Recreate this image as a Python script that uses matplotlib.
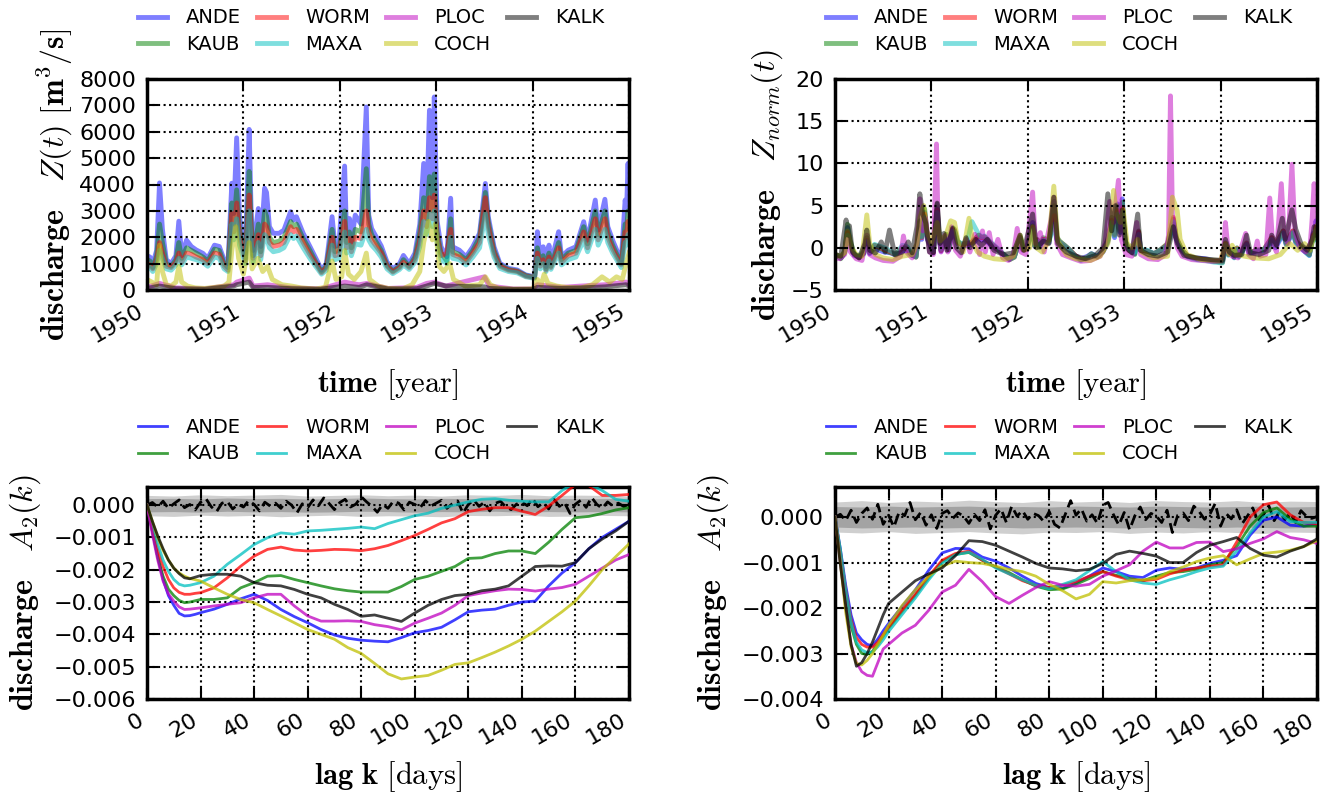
import numpy as np
import matplotlib
matplotlib.use("Agg")
import matplotlib.pyplot as plt
from matplotlib.ticker import FuncFormatter, MultipleLocator

# ---------------- DATA ----------------
STATIONS = ["ANDE", "KAUB", "WORM", "MAXA", "PLOC", "COCH", "KALK"]
COLORS = {"ANDE": "b", "KAUB": "g", "WORM": "r", "MAXA": "c",
          "PLOC": "m", "COCH": "y", "KALK": "k"}

# time grid (fractional years) shared by the large-river series
T_MAIN = [1950.00, 1950.03, 1950.06, 1950.10, 1950.13, 1950.16, 1950.20, 1950.25, 1950.30, 1950.33,
          1950.36, 1950.41, 1950.46, 1950.51, 1950.58, 1950.63, 1950.70, 1950.75, 1950.80, 1950.84,
          1950.88, 1950.90, 1950.93, 1950.96, 1951.02, 1951.06, 1951.08, 1951.10, 1951.155, 1951.18,
          1951.22, 1951.24, 1951.27, 1951.31, 1951.37, 1951.42, 1951.49, 1951.52, 1951.55, 1951.62,
          1951.69, 1951.76, 1951.81, 1951.86, 1951.92, 1951.95, 1951.99, 1952.05, 1952.07, 1952.10,
          1952.12, 1952.16, 1952.22, 1952.275, 1952.30, 1952.33, 1952.38, 1952.43, 1952.49, 1952.55,
          1952.62, 1952.66, 1952.72, 1952.78, 1952.83, 1952.87, 1952.90, 1952.93, 1952.96, 1952.98,
          1953.01, 1953.05, 1953.11, 1953.15, 1953.17, 1953.24, 1953.31, 1953.38, 1953.45, 1953.51,
          1953.54, 1953.60, 1953.66, 1953.75, 1953.84, 1953.93, 1954.02, 1954.05, 1954.08, 1954.11,
          1954.14, 1954.17, 1954.19, 1954.27, 1954.30, 1954.37, 1954.45, 1954.53, 1954.57, 1954.65,
          1954.68, 1954.75, 1954.78, 1954.83, 1954.88, 1954.92, 1954.96, 1954.975, 1954.99, 1955.00]

# discharge Z(t) [m^3/s]
ANDE_Z = [1300, 1250, 1000, 1500, 4060, 2300, 1150, 1000, 1300, 2610,
          1300, 1890, 1650, 1520, 1390, 1200, 1700, 1650, 1140, 1000,
          4050, 2900, 5770, 2780, 1390, 6090, 3000, 1500, 3090, 1650,
          3860, 3700, 2400, 2150, 2150, 2270, 2970, 2650, 2780, 2150,
          1650, 1140, 760, 1000, 2780, 1650, 1700, 4700, 2080, 2710,
          1820, 2840, 2500, 6940, 2840, 2330, 2000, 1670, 1060, 800,
          1000, 1310, 1000, 1400, 2500, 4800, 3000, 6820, 3500, 7320,
          2600, 1640, 1260, 3480, 1640, 1510, 1260, 1640, 2150, 4040,
          2780, 1640, 1010, 820, 760, 570, 505, 2210, 1140, 1640,
          890, 1700, 1010, 2210, 1260, 1510, 1640, 2590, 1890, 3410,
          2270, 3440, 2400, 1890, 1450, 1130, 3410, 3030, 4800, 3500]
KAUB_Z = [1150, 1100, 850, 1300, 2500, 1800, 1000, 900, 1150, 1800,
          1200, 1600, 1500, 1400, 1250, 1100, 1550, 1500, 1000, 850,
          3300, 2500, 3800, 2300, 1200, 4500, 2600, 1300, 2500, 1450,
          3000, 2800, 2000, 1800, 1850, 2000, 2600, 2400, 2500, 1950,
          1500, 1000, 700, 900, 2300, 1450, 1500, 3000, 1800, 2200,
          1600, 2300, 2200, 4600, 2500, 2100, 1800, 1500, 950, 720,
          900, 1150, 900, 1250, 2200, 3500, 2700, 4300, 3000, 4400,
          2200, 1400, 1100, 2700, 1450, 1350, 1150, 1500, 2000, 3700,
          2600, 1500, 950, 780, 720, 550, 480, 1600, 1000, 1300,
          800, 1400, 900, 1800, 1150, 1400, 1500, 2400, 1750, 3000,
          2100, 3000, 2200, 1700, 1300, 1000, 2500, 2300, 3000, 2600]
WORM_Z = [1000, 950, 800, 1150, 1800, 1400, 900, 850, 1050, 1400,
          1050, 1400, 1350, 1250, 1150, 1000, 1400, 1350, 900, 750,
          2900, 2200, 3300, 2000, 1100, 3600, 2300, 1200, 2100, 1300,
          2500, 2400, 1800, 1650, 1700, 1800, 2400, 2200, 2300, 1800,
          1350, 950, 650, 850, 2000, 1300, 1350, 2600, 1600, 1950,
          1450, 2000, 1950, 3000, 2200, 1900, 1650, 1400, 900, 680,
          850, 1050, 850, 1150, 1900, 3000, 2400, 3500, 2700, 3600,
          2000, 1300, 1400, 2300, 1350, 1250, 1050, 1400, 1800, 3500,
          2400, 1400, 900, 750, 700, 520, 460, 1400, 900, 1150,
          750, 1250, 850, 1600, 1050, 1300, 1400, 2200, 1600, 2700,
          1900, 2700, 2000, 1550, 1200, 950, 2200, 2000, 2600, 2300]
MAXA_Z = [900, 850, 700, 1000, 1500, 1200, 800, 750, 950, 1200,
          950, 1250, 1200, 1150, 1050, 900, 1250, 1200, 800, 700,
          2500, 1900, 2700, 1700, 1000, 3000, 1900, 1050, 1800, 1150,
          2100, 2000, 1600, 1450, 1500, 1600, 2100, 1950, 2050, 1600,
          1200, 850, 600, 750, 1700, 1150, 1200, 2200, 1400, 1700,
          1300, 1750, 1700, 2300, 1900, 1700, 1500, 1250, 800, 620,
          780, 950, 780, 1050, 1650, 2600, 2100, 2900, 2400, 3000,
          1800, 1150, 1000, 2000, 1200, 1150, 950, 1250, 1600, 2900,
          2100, 1250, 820, 700, 650, 500, 440, 1200, 800, 1000,
          700, 1100, 780, 1400, 950, 1150, 1250, 1900, 1450, 2300,
          1700, 2300, 1800, 1400, 1100, 850, 1800, 1700, 2100, 1900]

T_COCH = [1950.00, 1950.05, 1950.10, 1950.13, 1950.16, 1950.20, 1950.25, 1950.30, 1950.33, 1950.36,
          1950.42, 1950.50, 1950.60, 1950.70, 1950.80, 1950.85, 1950.88, 1950.92, 1950.95, 1951.00,
          1951.06, 1951.09, 1951.15, 1951.20, 1951.25, 1951.30, 1951.40, 1951.50, 1951.60, 1951.75,
          1951.85, 1951.92, 1951.96, 1952.02, 1952.05, 1952.09, 1952.15, 1952.22, 1952.275, 1952.31,
          1952.40, 1952.50, 1952.65, 1952.75, 1952.83, 1952.87, 1952.92, 1952.96, 1952.99, 1953.03,
          1953.08, 1953.14, 1953.18, 1953.30, 1953.45, 1953.51, 1953.56, 1953.65, 1953.80, 1954.00,
          1954.05, 1954.09, 1954.12, 1954.16, 1954.25, 1954.35, 1954.50, 1954.62, 1954.72, 1954.80,
          1954.87, 1954.93, 1954.97, 1955.00]
COCH_Z = [400, 300, 200, 1700, 700, 200, 150, 300, 900, 300,
          150, 80, 60, 100, 150, 300, 1500, 2400, 1200, 600,
          1800, 800, 1200, 700, 900, 400, 200, 150, 80, 40,
          100, 1100, 400, 500, 1500, 600, 400, 700, 1400, 400,
          150, 60, 40, 200, 700, 1800, 2600, 1900, 2500, 900,
          700, 1000, 400, 150, 200, 500, 200, 60, 30, 40,
          400, 200, 600, 250, 150, 100, 80, 200, 500, 300,
          500, 400, 1000, 1400]

T_SMALL = [1950.00, 1950.13, 1950.30, 1950.60, 1950.90, 1950.93, 1951.06, 1951.10, 1951.25, 1951.50,
           1951.80, 1952.05, 1952.20, 1952.28, 1952.50, 1952.80, 1952.90, 1952.98, 1953.10, 1953.50,
           1953.55, 1953.80, 1954.00, 1954.05, 1954.30, 1954.50, 1954.75, 1954.97, 1955.00]
PLOC_Z = [100, 250, 80, 40, 200, 300, 450, 150, 200, 80,
          40, 300, 200, 250, 60, 100, 250, 300, 150, 500,
          150, 40, 40, 200, 100, 150, 200, 300, 200]
KALK_Z = [60, 150, 50, 30, 150, 200, 300, 100, 100, 50,
          30, 150, 100, 200, 40, 50, 150, 250, 150, 120,
          60, 25, 25, 100, 60, 80, 120, 200, 150]

# normalised discharge Z_norm(t)
ANDE_N = [-1.0, -1.0, -1.2, -0.6, 2.4, 0.4, -0.9, -1.1, -0.7, 0.8,
          -0.7, 0.0, -0.3, -0.5, -0.6, -0.9, -0.3, -0.4, -0.9, -1.0,
          2.4, 1.0, 4.2, 1.0, -0.6, 4.6, 1.2, -0.4, 1.3, -0.3,
          2.1, 2.0, 0.5, 0.2, 0.3, 0.4, 1.2, 0.9, 1.0, 0.3,
          -0.3, -0.9, -1.3, -1.0, 1.0, -0.3, -0.2, 3.0, 0.2, 0.9,
          0.0, 1.0, 0.6, 5.5, 1.0, 0.5, 0.1, -0.3, -0.9, -1.3,
          -1.0, -0.7, -1.0, -0.5, 0.7, 3.2, 1.2, 5.2, 1.8, 5.8,
          0.8, -0.3, -0.7, 1.8, -0.3, -0.4, -0.7, -0.3, 0.3, 2.8,
          1.0, -0.3, -1.0, -1.2, -1.3, -1.5, -1.6, 0.4, -0.8, -0.3,
          -1.1, -0.2, -1.0, 0.4, -0.7, -0.4, -0.3, 0.8, 0.0, 1.7,
          0.4, 1.8, 0.6, 0.0, -0.5, -0.9, 1.7, 1.2, 3.2, 1.8]
KAUB_N = [-0.9, -1.0, -1.3, -0.5, 2.8, 0.8, -0.8, -1.2, -0.6, 1.2,
          -0.6, 0.3, 0.0, -0.3, -0.6, -0.8, 0.0, -0.2, -0.9, -1.1,
          3.2, 1.3, 4.6, 1.2, -0.5, 5.2, 1.6, -0.3, 1.6, -0.2,
          2.4, 2.2, 0.8, 0.4, 0.5, 0.6, 1.5, 1.2, 1.3, 0.5,
          -0.2, -0.9, -1.4, -1.1, 1.3, -0.2, -0.1, 2.6, 0.3, 1.0,
          0.1, 1.2, 0.9, 5.0, 1.3, 0.8, 0.3, -0.2, -0.9, -1.4,
          -1.1, -0.7, -1.1, -0.4, 1.0, 3.6, 1.6, 5.0, 2.2, 5.4,
          0.9, -0.3, -0.8, 2.0, -0.3, -0.4, -0.7, -0.2, 0.5, 3.4,
          1.2, -0.3, -1.0, -1.3, -1.4, -1.6, -1.7, 0.6, -0.7, -0.2,
          -1.1, 0.0, -0.9, 0.6, -0.6, -0.3, -0.2, 1.2, 0.3, 2.0,
          0.6, 2.0, 0.8, 0.2, -0.4, -0.8, 1.5, 1.0, 2.6, 1.6]
WORM_N = [-0.8, -0.9, -1.2, -0.4, 1.8, 0.5, -0.8, -1.1, -0.5, 0.9,
          -0.5, 0.3, 0.1, -0.2, -0.5, -0.8, 0.1, -0.1, -0.8, -1.1,
          3.0, 1.2, 4.0, 1.0, -0.5, 4.5, 1.4, -0.3, 1.4, -0.2,
          2.2, 2.0, 0.7, 0.4, 0.5, 0.7, 1.5, 1.2, 1.3, 0.5,
          -0.2, -0.9, -1.4, -1.1, 1.2, -0.2, -0.1, 2.4, 0.3, 0.9,
          0.1, 1.0, 0.9, 3.8, 1.1, 0.7, 0.3, -0.2, -0.9, -1.4,
          -1.1, -0.8, -1.1, -0.4, 0.9, 3.3, 1.5, 4.4, 2.0, 4.7,
          0.8, -0.3, 0.0, 1.9, -0.3, -0.4, -0.7, -0.2, 0.4, 3.6,
          1.2, -0.3, -1.0, -1.3, -1.4, -1.6, -1.7, 0.5, -0.8, -0.3,
          -1.1, -0.1, -1.0, 0.5, -0.6, -0.3, -0.2, 1.2, 0.3, 2.0,
          0.5, 2.0, 0.8, 0.2, -0.4, -0.8, 1.5, 1.1, 2.5, 1.7]
MAXA_N = [-0.8, -0.9, -1.2, -0.4, 1.5, 0.5, -0.8, -1.0, -0.4, 0.8,
          -0.5, 0.4, 0.2, 0.0, -0.4, -0.8, 0.3, 0.1, -0.8, -1.1,
          3.1, 1.3, 3.6, 1.0, -0.4, 4.2, 1.3, -0.2, 1.4, -0.1,
          2.0, 1.9, 0.8, 0.5, 0.6, 3.1, 1.6, 1.3, 1.4, 0.6,
          -0.1, -0.9, -1.4, -1.1, 1.1, -0.1, 0.0, 2.2, 0.3, 0.8,
          0.1, 0.9, 0.8, 2.8, 1.0, 0.7, 0.3, -0.2, -1.0, -1.5,
          -1.1, -0.8, -1.1, -0.3, 0.8, 3.0, 1.4, 4.0, 1.9, 4.2,
          0.8, -0.2, -0.5, 1.6, -0.2, -0.3, -0.7, -0.2, 0.3, 3.1,
          1.1, -0.3, -1.1, -1.4, -1.5, -1.7, -1.8, 0.3, -0.9, -0.4,
          -1.2, -0.2, -1.1, 0.4, -0.7, -0.3, -0.2, 1.0, 0.2, 1.8,
          0.4, 1.8, 0.7, 0.1, -0.5, -0.9, 1.2, 0.9, 2.1, 1.4]

T_PLOC_N = [1950.00, 1950.05, 1950.10, 1950.13, 1950.16, 1950.22, 1950.28, 1950.33, 1950.36, 1950.42,
            1950.50, 1950.60, 1950.68, 1950.71, 1950.74, 1950.80, 1950.85, 1950.88, 1950.91, 1950.94,
            1950.98, 1951.02, 1951.053, 1951.07, 1951.10, 1951.14, 1951.17, 1951.21, 1951.25, 1951.30,
            1951.36, 1951.40, 1951.45, 1951.50, 1951.53, 1951.56, 1951.60, 1951.64, 1951.69, 1951.74,
            1951.80, 1951.85, 1951.89, 1951.93, 1951.98, 1952.05, 1952.08, 1952.13, 1952.17, 1952.24,
            1952.27, 1952.30, 1952.36, 1952.45, 1952.55, 1952.65, 1952.75, 1952.80, 1952.85, 1952.89,
            1952.94, 1952.97, 1953.02, 1953.08, 1953.13, 1953.17, 1953.25, 1953.35, 1953.43, 1953.46,
            1953.48, 1953.50, 1953.55, 1953.60, 1953.70, 1953.80, 1953.90, 1954.00, 1954.03, 1954.05,
            1954.08, 1954.12, 1954.18, 1954.26, 1954.29, 1954.34, 1954.38, 1954.41, 1954.47, 1954.51,
            1954.54, 1954.58, 1954.63, 1954.66, 1954.70, 1954.74, 1954.77, 1954.82, 1954.88, 1954.93,
            1954.95, 1954.97, 1955.00]
PLOC_N = [-1.2, -1.3, -0.8, 1.0, -0.5, -1.3, -1.5, 1.5, -0.8, -1.2,
          -1.5, -1.6, -1.0, 1.4, -0.5, -1.2, 0.5, 5.8, 2.0, 3.5,
          -0.5, -0.8, 12.3, 2.0, -0.5, 1.5, -0.5, 2.5, -0.3, -1.0,
          1.0, -0.5, 1.6, -0.8, 2.0, -0.5, 1.8, -0.8, 1.0, -1.2,
          -1.5, -0.8, 2.3, -0.5, -0.8, 6.6, 0.5, 1.8, -0.5, 3.3,
          6.0, 0.5, -0.8, -1.2, -1.6, -1.5, -1.0, 0.5, 5.5, 3.0,
          8.0, 1.0, -0.8, -1.0, 3.0, -0.8, -1.3, -1.4, -0.8, 1.5,
          18.0, 4.0, 0.0, -1.0, -1.4, -1.5, -1.6, -1.5, -0.5, 3.0,
          -0.5, -1.0, -1.2, 1.7, -0.8, -1.3, 0.8, -1.0, -0.8, 5.9,
          0.5, -0.5, 7.6, 1.5, 0.5, 9.9, 2.0, 0.0, -0.5, 0.5,
          3.5, 7.6, 2.0]

T_COCH_N = [1950.00, 1950.05, 1950.10, 1950.13, 1950.17, 1950.22, 1950.28, 1950.33, 1950.36, 1950.42,
            1950.50, 1950.60, 1950.70, 1950.80, 1950.85, 1950.88, 1950.92, 1950.95, 1951.00, 1951.06,
            1951.09, 1951.15, 1951.20, 1951.24, 1951.28, 1951.33, 1951.39, 1951.43, 1951.48, 1951.55,
            1951.65, 1951.75, 1951.85, 1951.92, 1951.96, 1952.02, 1952.05, 1952.09, 1952.15, 1952.22,
            1952.27, 1952.31, 1952.40, 1952.50, 1952.65, 1952.75, 1952.83, 1952.87, 1952.89, 1952.92,
            1952.96, 1952.99, 1953.03, 1953.08, 1953.14, 1953.18, 1953.30, 1953.45, 1953.50, 1953.55,
            1953.58, 1953.65, 1953.80, 1954.00, 1954.05, 1954.09, 1954.12, 1954.16, 1954.25, 1954.35,
            1954.50, 1954.62, 1954.72, 1954.80, 1954.87, 1954.93, 1954.97, 1955.00]
COCH_N = [-0.8, -1.0, -0.6, 2.0, 0.0, -0.8, -1.0, 3.9, 0.5, -0.8,
          -1.2, -1.4, -1.0, -0.8, 0.5, 3.5, 5.0, 2.0, 0.5, 3.0,
          0.8, 1.5, 3.2, 3.0, 0.5, -0.5, 3.5, 0.5, -0.5, -1.0,
          -1.3, -1.4, -1.0, 1.5, -0.3, 0.0, 2.5, 0.0, -0.5, 0.8,
          7.3, 0.8, -0.8, -1.3, -1.5, -1.0, 0.5, 3.0, 6.8, 4.0,
          3.0, 4.5, 0.5, 0.0, 1.0, -0.5, -1.2, -1.0, 6.0, 4.4,
          1.0, -0.8, -1.4, -1.5, 0.5, -0.8, 0.3, -0.8, -1.0, -1.2,
          -1.3, -0.8, 0.5, -0.3, 0.5, -0.3, 1.5, 2.5]

T_KALK_N = [1950.00, 1950.06, 1950.115, 1950.13, 1950.15, 1950.18, 1950.25, 1950.31, 1950.33, 1950.36,
            1950.42, 1950.48, 1950.52, 1950.565, 1950.59, 1950.62, 1950.70, 1950.76, 1950.80, 1950.85,
            1950.88, 1950.91, 1950.94, 1950.98, 1951.02, 1951.06, 1951.09, 1951.13, 1951.16, 1951.22,
            1951.26, 1951.31, 1951.36, 1951.40, 1951.46, 1951.52, 1951.58, 1951.65, 1951.75, 1951.85,
            1951.92, 1951.96, 1952.05, 1952.09, 1952.16, 1952.22, 1952.27, 1952.31, 1952.40, 1952.50,
            1952.60, 1952.70, 1952.78, 1952.83, 1952.87, 1952.91, 1952.95, 1952.98, 1953.02, 1953.08,
            1953.14, 1953.17, 1953.25, 1953.35, 1953.45, 1953.51, 1953.55, 1953.62, 1953.75, 1953.90,
            1954.02, 1954.05, 1954.09, 1954.14, 1954.22, 1954.27, 1954.31, 1954.40, 1954.50, 1954.53,
            1954.58, 1954.64, 1954.67, 1954.74, 1954.78, 1954.84, 1954.90, 1954.95, 1954.97, 1955.00]
KALK_N = [-0.8, -1.0, 3.3, 1.5, 2.6, -0.5, -1.2, 0.5, 2.1, -0.3,
          -0.6, 0.7, -0.5, 2.1, 0.8, -0.8, -0.5, 0.7, -0.6, 2.5,
          6.4, 4.0, 3.0, -0.5, -0.6, 5.3, 0.5, 1.7, -0.3, 2.3,
          0.0, -0.6, 1.2, 0.0, 1.0, 0.3, 1.0, -0.3, -0.8, -0.6,
          1.5, -0.3, 4.0, 0.0, 0.8, 0.5, 6.0, 0.5, -0.5, -1.0,
          -1.3, -0.9, 0.0, 6.4, 2.0, 5.0, 1.5, 4.5, 0.0, -0.6,
          4.0, -0.3, -0.8, -1.0, -0.5, 2.5, 0.5, -0.9, -1.2, -1.4,
          -1.5, 1.0, -0.5, -0.9, -0.8, 1.5, -0.6, -0.8, -0.3, 1.5,
          0.3, 3.5, 1.0, 4.5, 2.2, 0.3, -0.3, 1.0, 2.5, 1.5]

# A_2(k) curves, lag k in days, values in units of 1e-3
LAG = [0, 2, 4, 6, 8, 10, 12, 14, 16, 18, 20, 25, 30, 35, 40, 45, 50, 55, 60, 65, 70, 75,
       80, 85, 90, 95, 100, 105, 110, 115, 120, 125, 130, 135, 140, 145, 150, 155, 160, 165,
       170, 175, 180]

ANDE_A = [0, -0.8, -1.6, -2.3, -2.8, -3.1, -3.35, -3.43, -3.42, -3.38, -3.33, -3.22, -3.07, -2.9,
          -2.76, -2.95, -3.23, -3.45, -3.64, -3.85, -4.02, -4.12, -4.18, -4.21, -4.23, -4.1, -3.95,
          -3.88, -3.78, -3.55, -3.3, -3.25, -3.22, -3.1, -3.0, -2.97, -2.5, -2.1, -1.78, -1.35,
          -1.0, -0.75, -0.5]
KAUB_A = [0, -0.8, -1.6, -2.2, -2.6, -2.8, -2.95, -3.02, -3.0, -2.96, -2.92, -2.92, -2.87, -2.56,
          -2.4, -2.2, -2.18, -2.3, -2.4, -2.5, -2.59, -2.65, -2.69, -2.69, -2.69, -2.52, -2.3,
          -2.2, -2.05, -1.9, -1.65, -1.63, -1.5, -1.42, -1.42, -1.5, -1.15, -0.75, -0.39, -0.35,
          -0.26, -0.15, -0.08]
WORM_A = [0, -0.7, -1.4, -1.9, -2.3, -2.56, -2.7, -2.76, -2.76, -2.73, -2.71, -2.56, -2.25, -1.89,
          -1.58, -1.37, -1.3, -1.39, -1.42, -1.4, -1.37, -1.38, -1.41, -1.35, -1.25, -1.1, -0.94,
          -0.75, -0.55, -0.42, -0.2, -0.13, -0.08, -0.08, -0.19, -0.29, -0.03, 0.3, 0.64, 0.6,
          0.3, 0.3, 0.33]
MAXA_A = [0, -0.6, -1.2, -1.7, -2.05, -2.3, -2.45, -2.5, -2.48, -2.44, -2.4, -2.2, -1.83, -1.53,
          -1.22, -1.01, -0.86, -0.9, -0.8, -0.78, -0.75, -0.72, -0.68, -0.73, -0.57, -0.45, -0.33,
          -0.25, -0.1, 0.0, 0.1, 0.18, 0.2, 0.15, 0.12, 0.1, 0.1, 0.45, 0.7, 0.65, 0.45, 0.18, 0.12]
PLOC_A = [0, -0.9, -1.7, -2.35, -2.75, -2.97, -3.15, -3.23, -3.22, -3.2, -3.18, -3.12, -3.07, -3.02,
          -2.87, -2.76, -2.76, -3.12, -3.43, -3.59, -3.59, -3.58, -3.6, -3.7, -3.76, -3.86, -3.65,
          -3.5, -3.34, -3.1, -2.8, -2.72, -2.65, -2.6, -2.61, -2.66, -2.6, -2.55, -2.45, -2.2,
          -1.95, -1.7, -1.53]
COCH_A = [0, -0.5, -1.0, -1.4, -1.7, -1.95, -2.1, -2.2, -2.27, -2.31, -2.35, -2.56, -2.76, -2.92,
          -3.02, -3.23, -3.43, -3.64, -3.85, -4.0, -4.15, -4.41, -4.59, -4.9, -5.22, -5.38, -5.32,
          -5.27, -5.11, -4.93, -4.88, -4.72, -4.55, -4.36, -4.15, -3.9, -3.6, -3.3, -2.97, -2.5,
          -2.0, -1.6, -1.2]
KALK_A = [0, -0.5, -0.95, -1.35, -1.7, -1.95, -2.12, -2.25, -2.28, -2.23, -2.18, -2.14, -2.14, -2.2,
          -2.4, -2.48, -2.5, -2.61, -2.76, -2.87, -3.07, -3.23, -3.44, -3.4, -3.5, -3.6, -3.34,
          -3.1, -2.92, -2.8, -2.76, -2.65, -2.6, -2.5, -2.2, -1.9, -1.88, -1.89, -1.78, -1.35,
          -1.05, -0.8, -0.5]

ANDE_AN = [0, -0.7, -1.5, -2.15, -2.55, -2.7, -2.8, -2.83, -2.68, -2.5, -2.34, -1.97, -1.6, -1.17,
           -0.79, -0.69, -0.7, -0.88, -0.97, -1.12, -1.3, -1.46, -1.55, -1.57, -1.45, -1.3, -1.12,
           -1.2, -1.3, -1.33, -1.17, -1.12, -1.15, -1.12, -1.02, -0.95, -0.85, -0.4, -0.07, 0.0,
           -0.18, -0.2, -0.15]
KAUB_AN = [0, -0.8, -1.7, -2.4, -2.8, -3.0, -3.02, -2.95, -2.8, -2.62, -2.45, -2.08, -1.72, -1.33,
           -0.98, -0.82, -0.78, -0.95, -1.1, -1.22, -1.38, -1.52, -1.6, -1.58, -1.48, -1.35, -1.2,
           -1.28, -1.35, -1.4, -1.3, -1.22, -1.2, -1.15, -1.05, -1.0, -0.65, -0.2, 0.1, 0.2,
           -0.05, -0.2, -0.2]
WORM_AN = [0, -0.75, -1.6, -2.25, -2.65, -2.8, -2.86, -2.86, -2.75, -2.58, -2.42, -2.05, -1.7, -1.3,
           -0.95, -0.8, -0.75, -0.95, -1.1, -1.25, -1.4, -1.5, -1.55, -1.5, -1.42, -1.3, -1.2,
           -1.3, -1.38, -1.4, -1.37, -1.25, -1.17, -1.12, -1.08, -1.05, -0.55, 0.0, 0.27, 0.33,
           0.05, -0.12, -0.15]
MAXA_AN = [0, -0.7, -1.6, -2.3, -2.75, -2.92, -2.98, -2.97, -2.85, -2.7, -2.52, -2.15, -1.78, -1.38,
           -1.02, -0.83, -0.77, -0.93, -1.12, -1.25, -1.38, -1.5, -1.58, -1.48, -1.38, -1.18, -0.98,
           -1.2, -1.38, -1.45, -1.48, -1.38, -1.3, -1.2, -1.12, -1.08, -0.75, -0.35, 0.0, 0.12,
           -0.1, -0.12, -0.12]
PLOC_AN = [0, -1.0, -2.0, -2.8, -3.2, -3.4, -3.48, -3.5, -3.2, -2.9, -2.8, -2.55, -2.38, -2.05,
           -1.65, -1.5, -1.15, -1.42, -1.75, -1.9, -1.72, -1.55, -1.42, -1.5, -1.52, -1.48, -1.3,
           -1.18, -1.05, -0.75, -0.55, -0.68, -0.68, -0.56, -0.55, -0.76, -0.7, -0.58, -0.48, -0.32,
           -0.45, -0.5, -0.58]
COCH_AN = [0, -1.0, -2.1, -2.85, -3.22, -3.25, -3.15, -3.0, -2.8, -2.6, -2.38, -1.95, -1.6, -1.3,
           -1.08, -0.97, -1.0, -1.02, -1.08, -1.15, -1.2, -1.3, -1.48, -1.62, -1.8, -1.7, -1.42,
           -1.45, -1.4, -1.38, -1.35, -1.2, -1.1, -0.98, -0.9, -0.85, -1.05, -0.92, -0.8, -0.77,
           -0.73, -0.65, -0.52]
KALK_AN = [0, -1.05, -1.95, -2.8, -3.28, -3.2, -3.0, -2.75, -2.45, -2.15, -1.9, -1.65, -1.4, -1.25,
           -1.12, -0.85, -0.52, -0.54, -0.62, -0.75, -0.88, -1.02, -1.12, -1.14, -1.18, -1.15, -1.02,
           -0.82, -0.75, -0.8, -0.86, -1.0, -1.0, -0.78, -0.62, -0.54, -0.45, -0.69, -0.84, -0.88,
           -0.75, -0.65, -0.48]

# surrogate (shuffled) reference: dashed line and bands, units of 1e-4
NOISE_LAG = list(range(0, 182, 2))
NOISE_L = [0.0, 0.8, -0.6, 1.2, -1.0, 0.4, 1.6, -0.8, 0.2, -1.5,
           0.9, 2.0, -0.5, -2.0, 0.6, 1.1, -1.2, 0.3, -0.6, 1.4,
           0.2, -1.8, 0.9, -0.3, 0.6, -1.0, 1.2, 0.0, -2.4, 0.4,
           -0.8, 1.6, -0.2, 2.2, 0.5, -1.4, 0.8, 1.8, -0.6, 0.3,
           2.6, 1.0, -0.4, -2.2, 0.2, -1.0, 1.2, 0.6, -1.5, 0.9,
           0.2, -0.8, 1.4, -0.3, 0.6, 1.5, -1.0, 0.4, 1.3, -2.5,
           0.2, 1.6, -0.4, 0.9, -1.8, 0.5, 1.2, -0.6, -1.4, 0.3,
           1.0, -0.2, 2.0, -0.5, 0.8, -1.2, 1.8, -0.4, 0.6, -2.6,
           0.3, 1.5, -0.7, 2.4, 0.2, -1.0, 1.0, -0.3, 0.6, -0.4,
           0.2]
NOISE_R = [0.0, 0.6, -0.8, 1.5, -1.2, 0.8, 2.0, -0.5, 2.8, -1.6,
           0.4, -2.2, 1.2, 0.3, 3.2, -0.6, 1.0, -1.8, 0.5, -2.5,
           0.8, 1.4, -0.3, 0.9, 0.2, -1.4, 0.6, -0.8, 1.6, -2.6,
           0.4, 1.8, -1.2, 2.4, 0.2, 1.4, -0.5, 0.8, 0.3, -1.0,
           1.2, -1.6, -2.4, 0.6, 3.6, 0.4, 1.8, -0.9, 0.5, -1.4,
           2.6, 3.2, 0.5, -1.8, 1.0, -2.8, 0.3, 2.2, -0.6, 0.8,
           0.2, -1.2, 1.5, -3.4, 0.4, 0.9, -0.8, 2.4, 1.2, -0.5,
           0.6, 3.0, -2.0, 0.8, -0.4, 1.6, -1.5, 0.2, 2.0, -1.0,
           0.5, 2.5, -0.8, 1.2, -0.6, 0.9, -1.2, 1.4, 0.2, -0.3,
           0.1]
BAND_LAG = list(range(0, 190, 10))
BAND_OUT_HI_L = [3.0, 2.8, 3.2, 2.9, 3.1, 3.3, 2.8, 3.0, 3.2, 2.9, 3.1, 2.8, 3.2, 3.0, 3.3, 2.9, 3.1, 3.0, 2.8]
BAND_OUT_LO_L = [-3.3, -3.5, -3.1, -3.4, -3.2, -3.6, -3.3, -3.1, -3.5, -3.3, -3.4, -3.6, -3.2, -3.3, -3.1, -3.5, -3.4, -3.2, -3.3]
BAND_IN_HI_L = [2.0, 2.1, 1.9, 2.2, 2.0, 2.1, 1.9, 2.0, 2.2, 2.0, 1.9, 2.1, 2.0, 2.2, 1.9, 2.1, 2.0, 2.0, 2.1]
BAND_IN_LO_L = [-2.1, -2.0, -2.2, -1.9, -2.1, -2.0, -2.2, -2.1, -1.9, -2.0, -2.2, -2.0, -2.1, -1.9, -2.2, -2.0, -2.1, -2.0, -2.1]
BAND_OUT_HI_R = [3.3, 3.6, 3.2, 3.5, 3.3, 3.7, 3.4, 3.2, 3.6, 3.3, 3.5, 3.2, 3.6, 3.4, 3.3, 3.6, 3.2, 3.5, 3.4]
BAND_OUT_LO_R = [-3.3, -3.5, -3.2, -3.6, -3.4, -3.2, -3.5, -3.7, -3.3, -3.4, -3.2, -3.6, -3.3, -3.5, -3.2, -3.4, -3.6, -3.3, -3.4]
BAND_IN_HI_R = [2.3, 2.2, 2.4, 2.2, 2.3, 2.4, 2.2, 2.3, 2.2, 2.4, 2.3, 2.2, 2.4, 2.3, 2.2, 2.3, 2.4, 2.2, 2.3]
BAND_IN_LO_R = [-2.2, -2.4, -2.3, -2.2, -2.4, -2.3, -2.2, -2.4, -2.3, -2.2, -2.3, -2.4, -2.2, -2.3, -2.4, -2.2, -2.3, -2.4, -2.2]

YEARS = [1950, 1951, 1952, 1953, 1954, 1955]
LAG_TICKS = [0, 20, 40, 60, 80, 100, 120, 140, 160, 180]

# ---------------- FIGURE ----------------
plt.rcParams["mathtext.fontset"] = "cm"
plt.rcParams["font.family"] = ["DejaVu Sans"]

W, H = 1330, 796
fig = plt.figure(figsize=(W / 100, H / 100), dpi=100)


def ax_at(l, t, r, b):
    return fig.add_axes([l / W, 1 - b / H, (r - l) / W, (b - t) / H])


ax_tl = ax_at(147, 79, 629, 290)
ax_tr = ax_at(835, 79, 1317, 290)
ax_bl = ax_at(147, 487, 629, 699)
ax_br = ax_at(835, 487, 1317, 699)

top_z = {"ANDE": (T_MAIN, ANDE_Z), "KAUB": (T_MAIN, KAUB_Z), "WORM": (T_MAIN, WORM_Z),
         "MAXA": (T_MAIN, MAXA_Z), "PLOC": (T_SMALL, PLOC_Z), "COCH": (T_COCH, COCH_Z),
         "KALK": (T_SMALL, KALK_Z)}
top_n = {"ANDE": (T_MAIN, ANDE_N), "KAUB": (T_MAIN, KAUB_N), "WORM": (T_MAIN, WORM_N),
         "MAXA": (T_MAIN, MAXA_N), "PLOC": (T_PLOC_N, PLOC_N), "COCH": (T_COCH_N, COCH_N),
         "KALK": (T_KALK_N, KALK_N)}
bot_l = {"ANDE": ANDE_A, "KAUB": KAUB_A, "WORM": WORM_A, "MAXA": MAXA_A,
         "PLOC": PLOC_A, "COCH": COCH_A, "KALK": KALK_A}
bot_r = {"ANDE": ANDE_AN, "KAUB": KAUB_AN, "WORM": WORM_AN, "MAXA": MAXA_AN,
         "PLOC": PLOC_AN, "COCH": COCH_AN, "KALK": KALK_AN}

for s in STATIONS:
    t, v = top_z[s]
    ax_tl.plot(t, v, color=COLORS[s], alpha=0.5, lw=3.5, label=s)
    t, v = top_n[s]
    ax_tr.plot(t, v, color=COLORS[s], alpha=0.5, lw=3.5, label=s)

for ax, data, nz, ohi, olo, ihi, ilo in [
        (ax_bl, bot_l, NOISE_L, BAND_OUT_HI_L, BAND_OUT_LO_L, BAND_IN_HI_L, BAND_IN_LO_L),
        (ax_br, bot_r, NOISE_R, BAND_OUT_HI_R, BAND_OUT_LO_R, BAND_IN_HI_R, BAND_IN_LO_R)]:
    ax.fill_between(BAND_LAG, np.array(olo) * 1e-4, np.array(ohi) * 1e-4,
                    color="#cfcfcf", lw=0, zorder=1)
    ax.fill_between(BAND_LAG, np.array(ilo) * 1e-4, np.array(ihi) * 1e-4,
                    color="#a3a3a3", lw=0, zorder=1.5)
    ax.plot(NOISE_LAG, np.array(nz) * 1e-4, color="k", ls="--", lw=2,
            dashes=(4, 2), zorder=2)
    for s in STATIONS:
        ax.plot(LAG, np.array(data[s]) * 1e-3, color=COLORS[s], alpha=0.75,
                lw=2, label=s, zorder=3)


def minus_fmt(fmt):
    def f(v, p):
        if abs(v) < 1e-12:
            v = 0.0
        return (fmt % v).replace("-", "\u2212")
    return FuncFormatter(f)


for ax in (ax_tl, ax_tr, ax_bl, ax_br):
    ax.grid(True, color="k", linestyle=":", linewidth=1.5)
    ax.set_axisbelow(False)
    ax.tick_params(direction="in", length=8, width=1.5, top=True, right=True,
                   labelsize=16, pad=8)
    for sp in ax.spines.values():
        sp.set_linewidth(2.5)
    leg_y = 1.118 if ax in (ax_tl, ax_tr) else 1.111
    ax.legend(ncol=4, loc="lower left", bbox_to_anchor=(-0.0197, leg_y),
              frameon=False, fontsize=14, handlelength=1.5, handletextpad=1.0,
              columnspacing=0.8, borderpad=0, borderaxespad=0, labelspacing=0.4)

for ax in (ax_tl, ax_tr):
    ax.set_xlim(1950, 1955)
    ax.set_xticks(YEARS)
    ax.set_xticklabels([str(y) for y in YEARS])
    ax.set_xlabel(r"$\mathbf{time}\ [\mathrm{year}]$", fontsize=22)
    ax.xaxis.set_label_coords(0.5, -0.365)

ax_tl.set_ylim(0, 8000)
ax_tl.yaxis.set_major_locator(MultipleLocator(1000))
ax_tl.set_ylabel(r"$\mathbf{discharge}\quad Z(t)\ [\mathbf{m}^3/\mathbf{s}]$", fontsize=23)
ax_tl.yaxis.set_label_coords(-0.15, 0.5)

ax_tr.set_ylim(-5, 20)
ax_tr.yaxis.set_major_locator(MultipleLocator(5))
ax_tr.set_ylabel(r"$\mathbf{discharge}\quad Z_{norm}(t)$", fontsize=23)
ax_tr.yaxis.set_label_coords(-0.104, 0.5)

for ax in (ax_bl, ax_br):
    ax.set_xlim(0, 180)
    ax.set_xticks(LAG_TICKS)
    ax.yaxis.set_major_formatter(minus_fmt("%.3f"))
    ax.set_xlabel(r"$\mathbf{lag\ k}\ [\mathrm{days}]$", fontsize=22)
    ax.xaxis.set_label_coords(0.5, -0.285)
    ax.set_ylabel(r"$\mathbf{discharge}\quad A_2(k)$", fontsize=23)
    ax.yaxis.set_label_coords(-0.215, 0.5)

ax_bl.set_ylim(-0.006, 0.00056)
ax_bl.set_yticks([-0.006, -0.005, -0.004, -0.003, -0.002, -0.001, 0.0])
ax_br.set_ylim(-0.004, 0.00066)
ax_br.set_yticks([-0.004, -0.003, -0.002, -0.001, 0.0])

for ax in (ax_tl, ax_tr, ax_bl, ax_br):
    for lab in ax.get_xticklabels():
        lab.set_rotation(30)
        lab.set_ha("right")
        lab.set_rotation_mode("default")

fig.savefig("out.png", dpi=100)
